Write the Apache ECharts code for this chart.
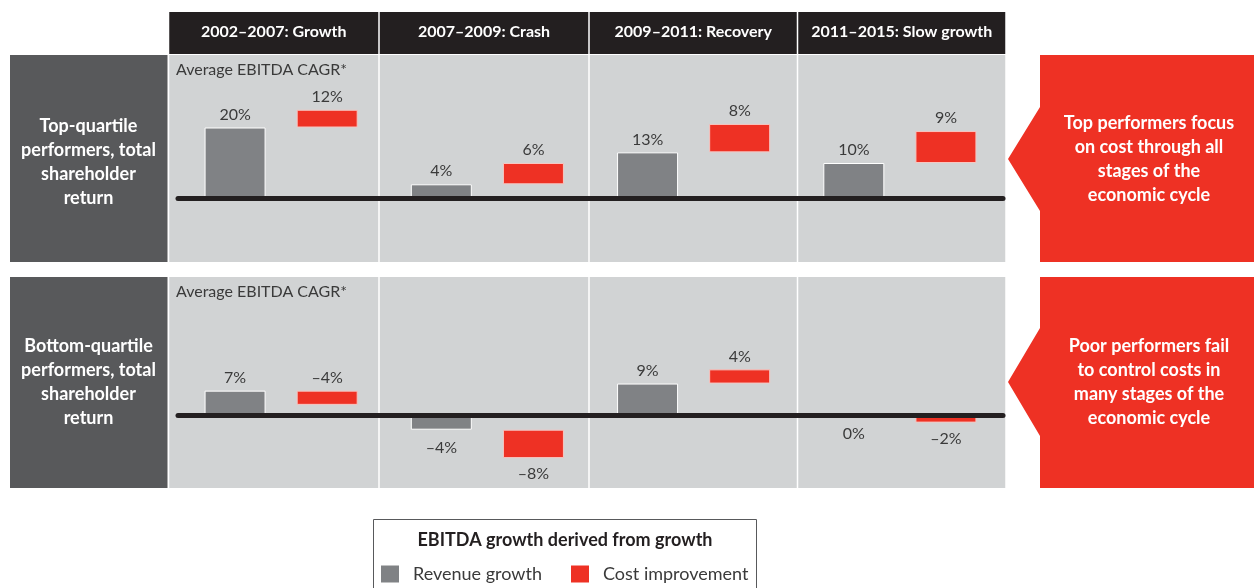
<!DOCTYPE html>
<html><head><meta charset="utf-8">
<script src="https://cdn.jsdelivr.net/npm/echarts@6/dist/echarts.min.js"></script>
<style>html,body{margin:0;padding:0;background:#fff}#c{width:1254px;height:588px}</style>
</head><body><div id="c"></div>
<script>
// ---- data ----
const categories = ['2002–2007: Growth', '2007–2009: Crash', '2009–2011: Recovery', '2011–2015: Slow growth'];
const rowTitles = ['Top-quartile\nperformers, total\nshareholder\nreturn', 'Bottom-quartile\nperformers, total\nshareholder\nreturn'];
const calloutTexts = ['Top performers focus\non cost through all\nstages of the\neconomic cycle', 'Poor performers fail\nto control costs in\nmany stages of the\neconomic cycle'];
const axisCaption = 'Average EBITDA CAGR*';
const legendTitle = 'EBITDA growth derived from growth';
const seriesNames = ['Revenue growth', 'Cost improvement'];
// top-quartile
const topRevenue = [20, 4, 13, 10];
const topCost = [12, 6, 8, 9];          // labelled values
const topCostDrawn = [5, 6, 8, 9];      // bar extents as drawn in the source (12% bar is shortened)
// bottom-quartile
const bottomRevenue = [7, -4, 9, 0];
const bottomCost = [-4, -8, 4, -2];
const bottomCostDrawn = [-4, -8, 4, -2];

// ---- style / layout ----
const FONT = 'Lato';
const C_DARK = '#231f20', C_LEFT = '#58595b', C_PANEL = '#d1d3d4', C_GREY = '#808285', C_RED = '#ee3124', C_TXT = '#3a3a3a';
const PX_PER_PCT = 3.55;
const rows = [{top: 55, bottom: 262, zeroY: 198.5}, {top: 277, bottom: 488, zeroY: 415.5}];
const colEdges = [168.5, 379, 589, 797.5, 1006];
const plotLeft = 178, plotWidth = 825;

function fmt(v) { return (v < 0 ? '–' : '') + Math.abs(v) + '%'; }

const graphic = [];
// header
categories.forEach((c, i) => {
  graphic.push({type: 'rect', z: -10, shape: {x: colEdges[i] + 0.75, y: 12, width: colEdges[i + 1] - colEdges[i] - 1.5, height: 42}, style: {fill: C_DARK}});
  graphic.push({type: 'text', z: 5, x: (colEdges[i] + colEdges[i + 1]) / 2, y: 32, style: {text: c, fill: '#fff', font: 'bold 16px ' + FONT, align: 'center', verticalAlign: 'middle'}});
});
rows.forEach((r, ri) => {
  // left title box
  graphic.push({type: 'rect', z: -10, shape: {x: 10, y: r.top, width: 157.5, height: r.bottom - r.top}, style: {fill: C_LEFT}});
  graphic.push({type: 'text', z: 5, x: 88.5, y: (r.top + r.bottom) / 2 + (ri === 0 ? 3.5 : 0), style: {text: rowTitles[ri], fill: '#fff', font: 'bold 18px ' + FONT, align: 'center', verticalAlign: 'middle', lineHeight: 24}});
  // panels
  for (let i = 0; i < 4; i++) {
    graphic.push({type: 'rect', z: -10, shape: {x: colEdges[i] + 0.75, y: r.top, width: colEdges[i + 1] - colEdges[i] - 1.5, height: r.bottom - r.top}, style: {fill: C_PANEL}});
  }
  graphic.push({type: 'text', z: 5, x: 176, y: r.top + 15, style: {text: axisCaption, fill: C_TXT, font: '16px ' + FONT, align: 'left', verticalAlign: 'middle'}});
  // callout
  const mid = ri === 0 ? 159 : 382;
  const ah = ri === 0 ? 52 : 54;
  graphic.push({type: 'polygon', z: -10, shape: {points: [[1008, mid], [1040, mid - ah], [1040, r.top], [1254, r.top], [1254, r.bottom], [1040, r.bottom], [1040, mid + ah]]}, style: {fill: C_RED}});
  graphic.push({type: 'text', z: 5, x: 1149, y: ri === 0 ? 159 : 382, style: {text: calloutTexts[ri], fill: '#fff', font: 'bold 18px ' + FONT, align: 'center', verticalAlign: 'middle', lineHeight: 24}});
});
// legend box and title
graphic.push({type: 'rect', z: -10, shape: {x: 373.5, y: 519.5, width: 383, height: 80}, style: {fill: '#fff', stroke: '#58595b', lineWidth: 1}});
graphic.push({type: 'text', z: 5, x: 565, y: 540, style: {text: legendTitle, fill: C_DARK, font: 'bold 18px ' + FONT, align: 'center', verticalAlign: 'middle'}});

const grids = [], xAxes = [], yAxes = [], series = [];
const labelBase = {show: true, fontFamily: FONT, fontSize: 16, color: C_TXT};
rows.forEach((r, ri) => {
  grids.push({left: plotLeft, width: plotWidth, top: r.top, height: r.bottom - r.top, containLabel: false});
  xAxes.push({type: 'category', gridIndex: ri, data: categories, axisLabel: {show: false}, axisTick: {show: false}, splitLine: {show: false},
    axisLine: {show: true, onZero: true, lineStyle: {color: C_DARK, width: 5}}, z: 3});
  yAxes.push({type: 'value', gridIndex: ri, min: -(r.bottom - r.zeroY) / PX_PER_PCT, max: (r.zeroY - r.top) / PX_PER_PCT, show: false, splitLine: {show: false}});
  const rev = ri === 0 ? topRevenue : bottomRevenue;
  const costLbl = ri === 0 ? topCost : bottomCost;
  const costDrawn = ri === 0 ? topCostDrawn : bottomCostDrawn;
  series.push({
    name: seriesNames[0], type: 'bar', xAxisIndex: ri, yAxisIndex: ri, barWidth: 61, barGap: '51%',
    itemStyle: {color: C_GREY, borderColor: '#fff', borderWidth: 1},
    label: Object.assign({}, labelBase, {formatter: p => fmt(rev[p.dataIndex])}),
    data: rev.map(v => ({value: v, label: {position: v > 0 ? 'top' : 'bottom', distance: v > 0 ? 5 : 10}}))
  });
  series.push({
    name: 'base', type: 'bar', xAxisIndex: ri, yAxisIndex: ri, stack: 'c' + ri, stackStrategy: 'all', barWidth: 61, barGap: '51%',
    silent: true, itemStyle: {color: 'rgba(0,0,0,0)', borderWidth: 0}, data: rev.slice()
  });
  series.push({
    name: seriesNames[1], type: 'bar', xAxisIndex: ri, yAxisIndex: ri, stack: 'c' + ri, stackStrategy: 'all', barWidth: 61, barGap: '51%',
    itemStyle: {color: C_RED, borderColor: '#f7c6c1', borderWidth: 1},
    label: Object.assign({}, labelBase, {formatter: p => fmt(costLbl[p.dataIndex])}),
    data: costDrawn.map((v, i) => {
      const up = rev[i] + v > 0;
      return {value: v, label: {position: up ? 'top' : 'bottom', distance: up ? 5 : 8}};
    })
  });
});

const chart = echarts.init(document.getElementById('c'), null, {renderer: 'canvas'});
chart.setOption({
  animation: false,
  backgroundColor: '#fff',
  graphic: {elements: graphic},
  grid: grids, xAxis: xAxes, yAxis: yAxes, series: series,
  legend: {data: seriesNames, left: 381, top: 565, padding: 0, itemWidth: 18, itemHeight: 17, itemGap: 29, selectedMode: false, icon: 'rect',
    itemStyle: {borderWidth: 0},
    textStyle: {fontFamily: FONT, fontSize: 18, color: C_TXT, padding: [0, 0, 0, 9]}}
});
</script></body></html>
